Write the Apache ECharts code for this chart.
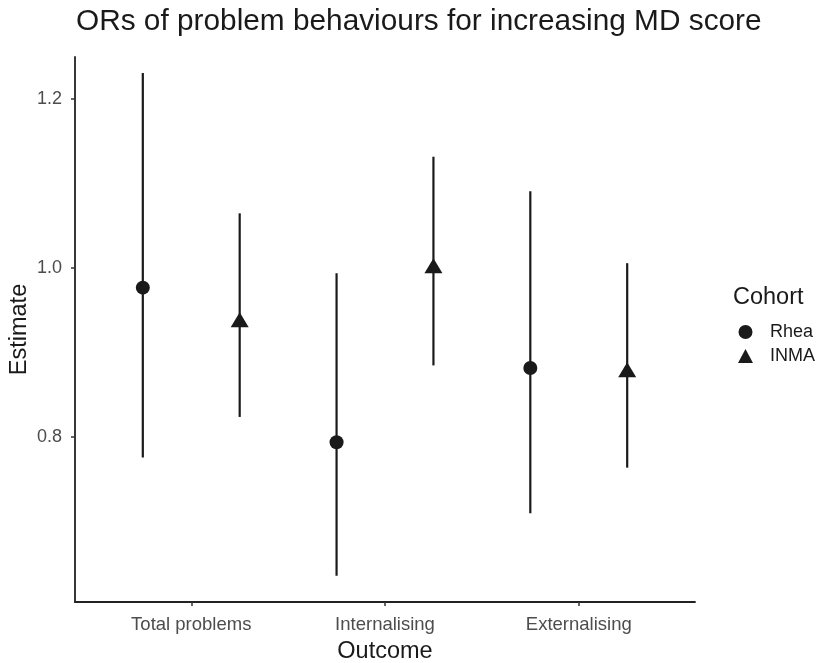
<!DOCTYPE html>
<html>
<head>
<meta charset="utf-8">
<script src="https://cdn.jsdelivr.net/npm/echarts@6/dist/echarts.min.js"></script>
<style>html,body{margin:0;padding:0;background:#fff;}#c{width:821px;height:663px;}</style>
</head>
<body>
<div id="c"></div>
<script>
const categories = ['Total problems', 'Internalising', 'Externalising'];
const cohorts = ['Rhea', 'INMA'];
const rheaEst  = [0.977, 0.794, 0.882];
const rheaLow  = [0.776, 0.636, 0.710];
const rheaHigh = [1.231, 0.994, 1.091];
const inmaEst  = [0.939, 1.003, 0.880];
const inmaLow  = [0.824, 0.885, 0.764];
const inmaHigh = [1.065, 1.132, 1.006];
const yTicks = [0.8, 1.0, 1.2];

const FONT = '"Liberation Sans", Arial, Helvetica, sans-serif';
const INK = '#1a1a1a';
const dodge = 0.25;

function pts(est, off) { return est.map((v, i) => [i + 1 + off, v]); }
function bars(lo, hi, off) { return lo.map((v, i) => [i + 1 + off, v, hi[i]]); }

function errRender(params, api) {
  const p1 = api.coord([api.value(0), api.value(1)]);
  const p2 = api.coord([api.value(0), api.value(2)]);
  return {
    type: 'line',
    shape: { x1: p1[0], y1: p1[1], x2: p2[0], y2: p2[1] },
    style: { stroke: INK, lineWidth: 2.2 }
  };
}

const chart = echarts.init(document.getElementById('c'), null, { renderer: 'canvas' });
chart.setOption({
  animation: false,
  backgroundColor: '#fff',
  title: [{
    text: 'ORs of problem behaviours for increasing MD score',
    left: 71, top: 2,
    textStyle: { fontFamily: FONT, fontSize: 29.8, fontWeight: 'normal', color: INK }
  }, {
    text: 'Cohort',
    left: 728, top: 281,
    textStyle: { fontFamily: FONT, fontSize: 23.5, fontWeight: 'normal', color: INK }
  }],
  legend: {
    orient: 'vertical',
    left: 738, top: 323, padding: 0,
    itemWidth: 15, itemHeight: 14, itemGap: 6,
    data: [{ name: 'Rhea', icon: 'circle' }, { name: 'INMA', icon: 'triangle' }],
    textStyle: { fontFamily: FONT, fontSize: 18, color: INK, padding: [0, 0, 0, 12] }
  },
  grid: { left: 75, right: 126, top: 57, bottom: 61, containLabel: false, outerBoundsMode: 'none' },
  xAxis: {
    type: 'value', min: 0.4, max: 3.6,
    name: 'Outcome', nameLocation: 'middle', nameGap: 38,
    nameTextStyle: { fontFamily: FONT, fontSize: 23.5, color: INK },
    axisLine: { show: true, onZero: false, lineStyle: { color: '#222', width: 1.8 } },
    axisTick: { show: true, length: 4, customValues: [1, 2, 3], lineStyle: { color: '#333', width: 1.5 } },
    axisLabel: {
      customValues: [1, 2, 3], margin: 13,
      fontFamily: FONT, fontSize: 18.5, color: '#4d4d4d',
      formatter: v => categories[Math.round(v) - 1] || ''
    },
    splitLine: { show: false }
  },
  yAxis: {
    type: 'value', min: 0.605, max: 1.25,
    name: 'Estimate', nameLocation: 'middle', nameGap: 43, nameMoveOverlap: false,
    nameTextStyle: { fontFamily: FONT, fontSize: 23.5, color: INK },
    axisLine: { show: true, onZero: false, lineStyle: { color: '#222', width: 1.8 } },
    axisTick: { show: true, length: 4, customValues: yTicks, lineStyle: { color: '#333', width: 1.5 } },
    axisLabel: {
      customValues: yTicks, margin: 13,
      fontFamily: FONT, fontSize: 18, color: '#4d4d4d',
      formatter: v => v.toFixed(1)
    },
    splitLine: { show: false }
  },
  series: [
    { name: 'Rhea', type: 'custom', renderItem: errRender, data: bars(rheaLow, rheaHigh, -dodge), itemStyle: { color: INK }, z: 2 },
    { name: 'INMA', type: 'custom', renderItem: errRender, data: bars(inmaLow, inmaHigh, dodge), itemStyle: { color: INK }, z: 2 },
    { name: 'Rhea', type: 'scatter', symbol: 'circle', symbolSize: 14, data: pts(rheaEst, -dodge), itemStyle: { color: INK, opacity: 1 }, z: 3 },
    { name: 'INMA', type: 'scatter', symbol: 'triangle', symbolSize: [18, 15], data: pts(inmaEst, dodge), itemStyle: { color: INK, opacity: 1 }, z: 3 }
  ]
});
</script>
</body>
</html>
